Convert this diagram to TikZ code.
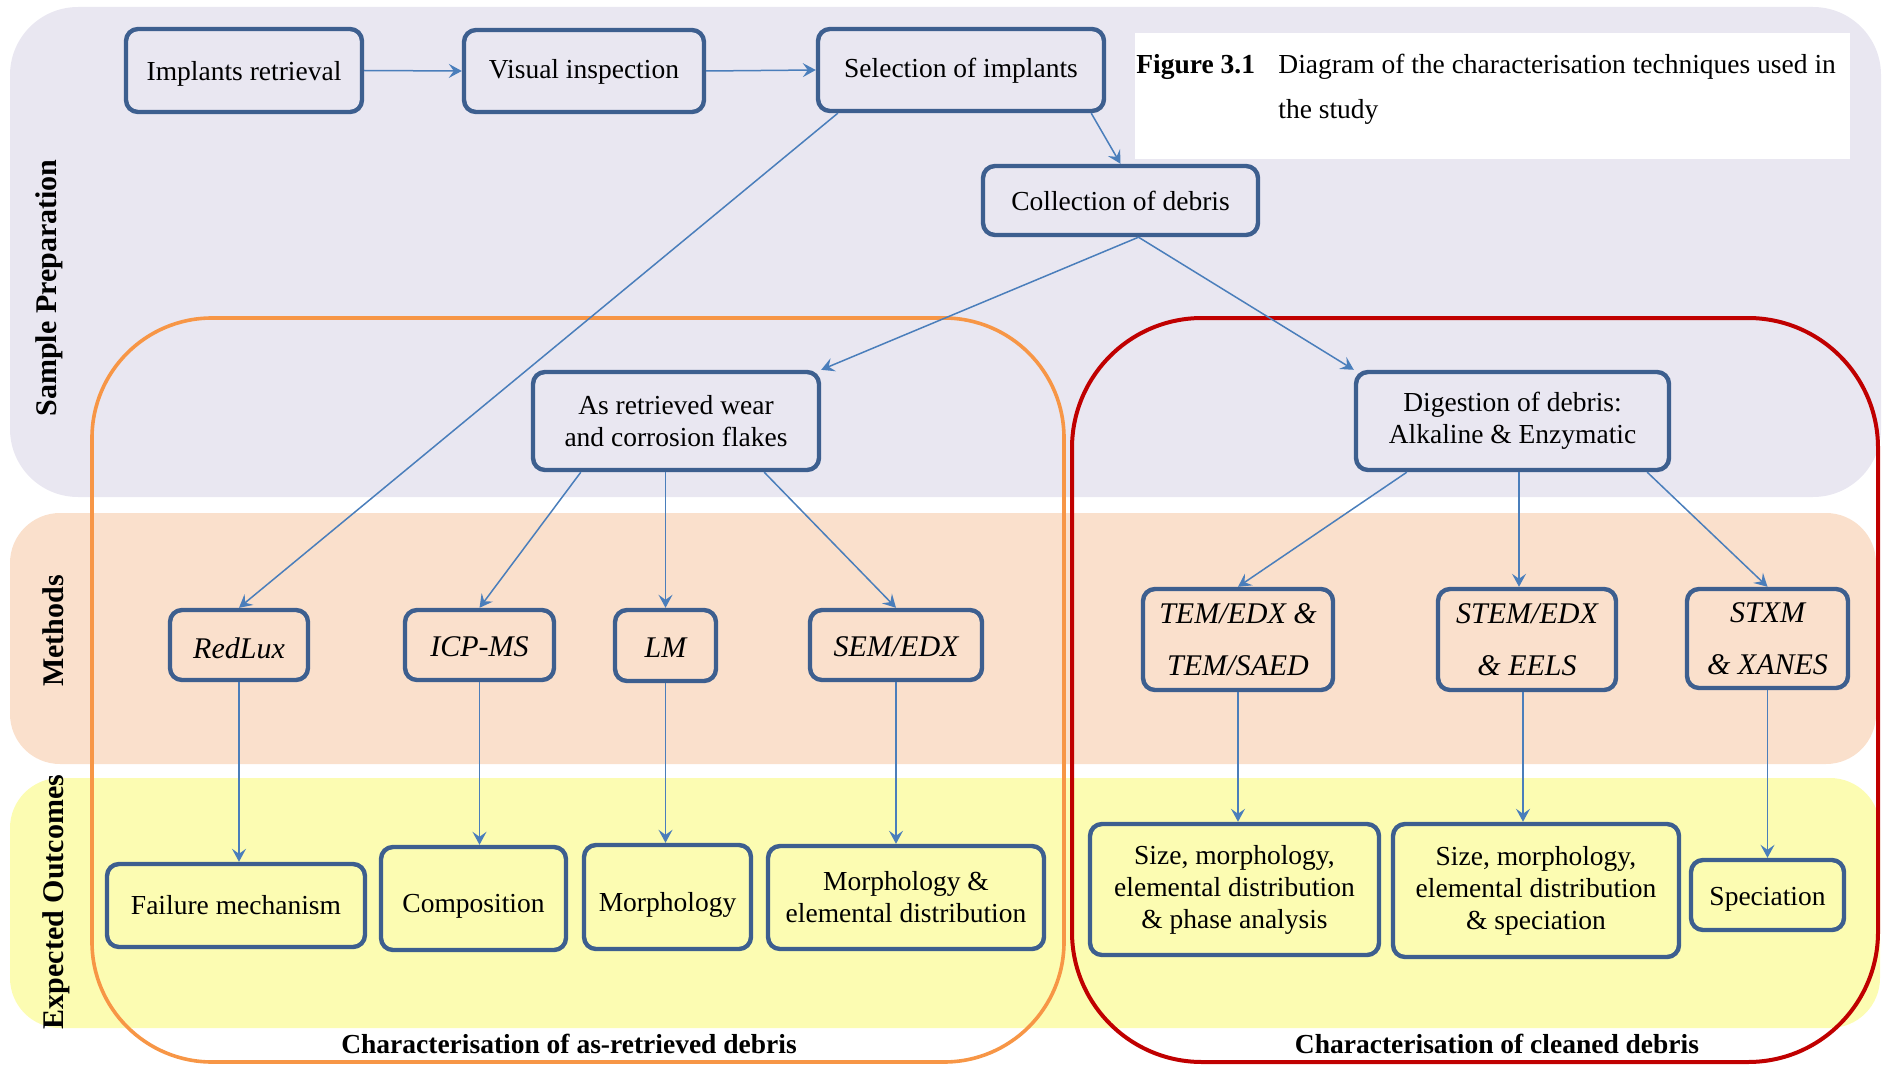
\documentclass[tikz,border=0pt]{standalone}
\usepackage{fontspec}
\setmainfont{Liberation Serif}
\usetikzlibrary{arrows.meta,calc}

\definecolor{prepbg}{RGB}{233,231,241}
\definecolor{methbg}{RGB}{250,224,204}
\definecolor{outbg}{RGB}{252,252,178}
\definecolor{boxline}{RGB}{61,95,143}
\definecolor{arrowc}{RGB}{74,126,187}
\definecolor{asretc}{RGB}{247,150,70}
\definecolor{cleanc}{RGB}{192,0,0}

\begin{document}
\begin{tikzpicture}[x=0.5pt,y=-0.5pt,
  box/.style={draw=boxline, line width=2.2pt, rounded corners=6pt, inner sep=0pt,
    align=center, font=\fontsize{13.75}{16}\selectfont},
  methodbox/.style={box, font=\fontsize{15}{26}\selectfont\itshape},
  % a box given by its left, top, right and bottom edges
  span/.style n args={4}{minimum width={(#3-#1)*0.5pt}, minimum height={(#4-#2)*0.5pt},
    at={({(#1+#3)/2},{(#2+#4)/2})}},
  % single-line text set a little below the box centre
  lowtext/.style={text height=#1},
  link/.style={draw=arrowc, line width=0.75pt, -{Stealth[length=6.5pt,width=7pt,inset=2.5pt]}},
  sidelabel/.style={rotate=90, anchor=base, inner sep=0pt, font=\fontsize{15}{18}\selectfont\bfseries},
  grouplabel/.style={anchor=base, inner sep=0pt, font=\fontsize{13.75}{16}\selectfont\bfseries},
  captext/.style={anchor=base west, inner sep=0pt, font=\fontsize{13.75}{16}\selectfont},
]
\useasboundingbox (0,0) rectangle (1890,1065);

% background bands
\fill[prepbg, rounded corners=34pt] (10,7) rectangle (1881,497);
\fill[methbg, rounded corners=25pt] (10,513) rectangle (1876,764);
\fill[outbg, rounded corners=25pt] (10,778) rectangle (1880,1028);

% caption
\fill[white] (1135,33) rectangle (1850,159);
\node[captext, font=\fontsize{13.75}{16}\selectfont\bfseries] (capfig) at (1136,74) {Figure 3.1};
\node[captext] (capone) at (1278,74) {Diagram of the characterisation techniques used in};
\node[captext] (captwo) at (1278,119) {the study};

% side labels
\node[sidelabel] (lprep) at (56,288) {Sample Preparation};
\node[sidelabel] (lmeth) at (63,631) {Methods};
\node[sidelabel] (lout) at (63,902) {Expected Outcomes};

% group frames
\draw[asretc, line width=1.8pt, rounded corners=60pt] (92,318) rectangle (1064,1062);
\draw[cleanc, line width=2pt, rounded corners=65pt] (1072,318) rectangle (1878,1062);
\node[grouplabel] (gas) at (569,1053) {Characterisation of as-retrieved debris};
\node[grouplabel] (gcl) at (1497,1053) {Characterisation of cleaned debris};

% sample preparation
\node[box, lowtext=13pt, span={126}{29}{362}{112}] (ret) {Implants retrieval};
\node[box, lowtext=10.5pt, span={464}{30}{704}{112}] (vis) {Visual inspection};
\node[box, lowtext=10.5pt, span={818}{29}{1104}{111}] (sel) {Selection of implants};
\node[box, span={983}{166}{1258}{235}] (coll) {Collection of debris};
\node[box, span={533}{372}{819}{470}] (asret) {As retrieved wear\\and corrosion flakes};
\node[box, span={1356}{372}{1669}{470}] (dig) {Digestion of debris:\\Alkaline \& Enzymatic};

% methods
\node[methodbox, lowtext=13.5pt, span={170}{610}{308}{680}] (redlux) {RedLux};
\node[methodbox, lowtext=12pt, span={405}{610}{554}{680}] (icp) {ICP-MS};
\node[methodbox, lowtext=12pt, span={615}{610}{716}{681}] (lm) {LM};
\node[methodbox, lowtext=12pt, span={810}{610}{982}{680}] (sem) {SEM/EDX};
\node[methodbox, span={1143}{589}{1333}{690}] (tem) {TEM/EDX \&\\TEM/SAED};
\node[methodbox, span={1438}{589}{1616}{690}] (stem) {STEM/EDX\\\& EELS};
\node[methodbox, span={1687}{589}{1848}{688}] (stxm) {STXM\\\& XANES};

% expected outcomes
\node[box, span={107}{864}{365}{947}] (fail) {Failure mechanism};
\node[box, lowtext=17pt, span={381}{847}{566}{950}] (comp) {Composition};
\node[box, lowtext=17pt, span={584}{845}{751}{949}] (morph) {Morphology};
\node[box, span={768}{846}{1044}{949}] (morphel) {Morphology \&\\elemental distribution};
\node[box, span={1090}{824}{1379}{955}] (sizea) {Size, morphology,\\elemental distribution\\\& phase analysis};
\node[box, span={1393}{824}{1679}{957}] (sizeb) {Size, morphology,\\elemental distribution\\\& speciation};
\node[box, lowtext=13pt, span={1691}{860}{1844}{930}] (spec) {Speciation};

% connectors
\draw[link] (ret.east) -- (vis.west);
\draw[link] (vis.east) -- (sel.west);
\draw[link] ($(sel.south east)+(-15,0)$) -- (coll.north);
\draw[link] ($(sel.south west)+(22,0)$) -- (redlux.north);
\draw[link] ($(coll.south)+(18,0)$) -- (asret.north east);
\draw[link] ($(coll.south)+(18,0)$) -- (dig.north west);

\draw[link] ($(asret.south west)+(50,0)$) -- (icp.north);
\draw[link] (asret.south -| lm.north) -- (lm.north);
\draw[link] ($(asret.south east)+(-57,0)$) -- (sem.north);

\coordinate (stemin) at ($(stem.north)+(-8,0)$);
\draw[link] ($(dig.south west)+(53,0)$) -- (tem.north);
\draw[link] (dig.south -| stemin) -- (stemin);
\draw[link] ($(dig.south east)+(-24,0)$) -- (stxm.north);

\draw[link] (redlux.south) -- (redlux.south |- fail.north);
\draw[link] (icp.south) -- (icp.south |- comp.north);
\draw[link] (lm.south) -- (lm.south |- morph.north);
\draw[link] (sem.south) -- (sem.south |- morphel.north);
\draw[link] (tem.south) -- (tem.south |- sizea.north);
\draw[link] ($(stem.south)+(-4,0)$) coordinate (stemout) -- (stemout |- sizeb.north);
\draw[link] (stxm.south) -- (stxm.south |- spec.north);
\end{tikzpicture}
\end{document}
